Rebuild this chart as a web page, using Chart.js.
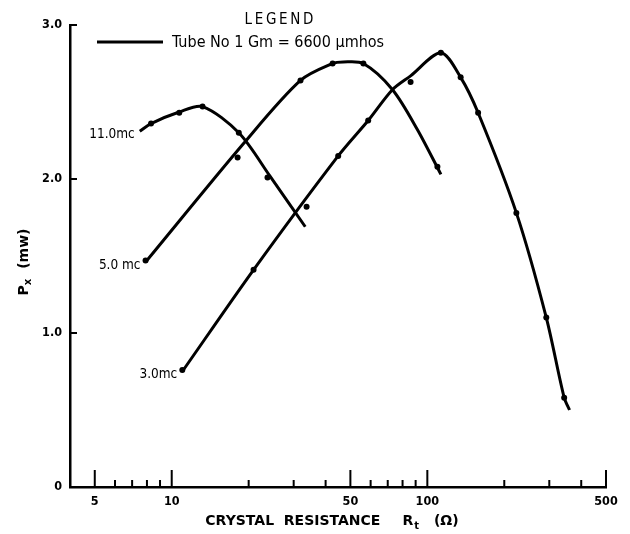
<!DOCTYPE html>
<html>
<head>
<meta charset="utf-8">
<script src="https://cdn.jsdelivr.net/npm/chart.js@4"></script>
<style>
  html, body { margin: 0; padding: 0; background: #fff; }
  #wrap { width: 630px; height: 534px; }
</style>
</head>
<body>
<div id="wrap"><canvas id="myChart" width="630" height="534"></canvas></div>
<script>
// axis ticks
const xMajor = [5, 10, 50, 100, 500];
const xMinor = [6, 7, 8, 9, 20, 30, 40, 60, 70, 80, 90, 200, 300, 400];
const yTicks = [0, 1, 2, 3];
const yLabels = ['0', '1.0', '2.0', '3.0'];

// faired curves (crystal resistance, ohms -> Px, mw)
const curve11R = [7.5, 8.3, 10.7, 13.2, 18.3, 24.2, 33.3];
const curve11P = [2.31, 2.36, 2.435, 2.47, 2.30, 2.02, 1.69];
const curve5R = [7.9, 19.1, 31.9, 42.6, 46.9, 56.2, 73.1, 91.5, 113];
const curve5P = [1.46, 2.23, 2.64, 2.75, 2.76, 2.75, 2.58, 2.32, 2.03];
const curve3R = [11.0, 20.9, 44.8, 58.7, 73, 86, 113, 135, 158, 223, 292, 343, 360];
const curve3P = [0.75, 1.41, 2.15, 2.38, 2.58, 2.67, 2.82, 2.66, 2.43, 1.78, 1.10, 0.58, 0.50];

// measured points
const dots11R = [8.3, 10.7, 13.2, 18.3, 23.7, 33.7];
const dots11P = [2.36, 2.43, 2.47, 2.30, 2.01, 1.82];
const dots5R = [7.9, 18.1, 31.9, 42.6, 56.2, 109.5];
const dots5P = [1.47, 2.14, 2.64, 2.75, 2.75, 2.08];
const dots3R = [11.0, 20.9, 44.8, 58.7, 86, 113, 135, 158, 223, 292, 343];
const dots3P = [0.76, 1.41, 2.15, 2.38, 2.63, 2.82, 2.66, 2.43, 1.78, 1.10, 0.58];

const curveNames = ['11.0mc', '5.0 mc', '3.0mc'];

const pts = (xs, ys) => xs.map((x, i) => ({ x: x, y: ys[i] }));

const curveStyle = {
    borderColor: '#000',
    borderWidth: 3,
    pointRadius: 0,
    tension: 0.3,
    fill: false
};
const dotStyle = {
    showLine: false,
    pointRadius: 3,
    pointBackgroundColor: '#000',
    pointBorderWidth: 0
};

const tickFont = { family: 'DejaVu Sans Condensed, DejaVu Sans', size: 12.5, weight: 'bold' };

// extra drawing: inward tick marks, curve labels, legend, axis titles
const decor = {
    id: 'decor',
    afterDraw(chart) {
        const ctx = chart.ctx;
        const xs = chart.scales.x, ys = chart.scales.y;
        const bottom = chart.chartArea.bottom, left = chart.chartArea.left;
        ctx.save();
        ctx.strokeStyle = '#000';
        ctx.fillStyle = '#000';
        ctx.lineWidth = 2;
        ctx.beginPath();
        xMajor.forEach(v => {
            const px = xs.getPixelForValue(v);
            ctx.moveTo(px, bottom); ctx.lineTo(px, bottom - 17);
        });
        xMinor.forEach(v => {
            const px = xs.getPixelForValue(v);
            ctx.moveTo(px, bottom); ctx.lineTo(px, bottom - 7);
        });
        yTicks.slice(1).forEach(v => {
            const py = ys.getPixelForValue(v);
            ctx.moveTo(left, py); ctx.lineTo(left + 7, py);
        });
        ctx.stroke();

        // curve labels at the start of each curve
        ctx.font = '13.5px "DejaVu Sans Condensed", "DejaVu Sans"';
        ctx.textAlign = 'right';
        ctx.textBaseline = 'middle';
        [[curve11R, curve11P], [curve5R, curve5P], [curve3R, curve3P]].forEach((c, i) => {
            const px = xs.getPixelForValue(c[0][0]);
            const py = ys.getPixelForValue(c[1][0]);
            ctx.fillText(curveNames[i], px - 5, py + 3);
        });

        // legend
        ctx.textAlign = 'center';
        ctx.font = '15px "DejaVu Sans Condensed", "DejaVu Sans"';
        ctx.fillText('L E G E N D'.replace(/ /g, '\u2009'), 279, 20);
        ctx.lineWidth = 3;
        ctx.beginPath();
        ctx.moveTo(97, 42); ctx.lineTo(163, 42);
        ctx.stroke();
        ctx.textAlign = 'left';
        ctx.font = '16px "DejaVu Sans Condensed", "DejaVu Sans"';
        ctx.fillText('Tube No 1 Gm = 6600 \u00B5mhos', 172, 43);

        // x axis title with subscript
        const tFont = 'bold 14px "DejaVu Sans"';
        const sFont = 'bold 10px "DejaVu Sans"';
        ctx.font = tFont;
        const partA = 'CRYSTAL  RESISTANCE', partR = 'R', partC = '(\u03A9)';
        const wA = ctx.measureText(partA).width;
        const wR = ctx.measureText(partR).width;
        const wC = ctx.measureText(partC).width;
        ctx.font = sFont;
        const wT = ctx.measureText('t').width;
        const gap1 = 22, gap2 = 16;
        const total = wA + gap1 + wR + wT + gap2 + wC;
        let x0 = (chart.chartArea.left + chart.chartArea.right) / 2 - total / 2 - 6;
        const ty = 521;
        ctx.font = tFont;
        ctx.fillText(partA, x0, ty); x0 += wA + gap1;
        ctx.fillText(partR, x0, ty); x0 += wR;
        ctx.font = sFont;
        ctx.fillText('t', x0 + 1, ty + 5); x0 += wT + gap2;
        ctx.font = tFont;
        ctx.fillText(partC, x0, ty);

        // y axis title, rotated
        ctx.translate(24, (chart.chartArea.top + chart.chartArea.bottom) / 2 + 6);
        ctx.rotate(-Math.PI / 2);
        ctx.font = tFont;
        const wP = ctx.measureText('P').width;
        const wM = ctx.measureText('(mw)').width;
        ctx.font = sFont;
        const wX = ctx.measureText('x').width;
        const tot2 = wP + wX + 10 + wM;
        let y0 = -tot2 / 2;
        ctx.font = tFont;
        ctx.fillText('P', y0, 0); y0 += wP;
        ctx.font = sFont;
        ctx.fillText('x', y0, 4); y0 += wX + 10;
        ctx.font = tFont;
        ctx.fillText('(mw)', y0, 0);
        ctx.restore();
    }
};

const ctx = document.getElementById('myChart').getContext('2d');

const myChart = new Chart(ctx, {
    type: 'scatter',
    data: {
        datasets: [
            Object.assign({ label: '11.0 mc', data: pts(curve11R, curve11P), showLine: true }, curveStyle),
            Object.assign({ label: '5.0 mc', data: pts(curve5R, curve5P), showLine: true }, curveStyle),
            Object.assign({ label: '3.0 mc', data: pts(curve3R, curve3P), showLine: true }, curveStyle),
            Object.assign({ label: '11.0 mc points', data: pts(dots11R, dots11P) }, dotStyle),
            Object.assign({ label: '5.0 mc points', data: pts(dots5R, dots5P) }, dotStyle),
            Object.assign({ label: '3.0 mc points', data: pts(dots3R, dots3P) }, dotStyle)
        ]
    },
    options: {
        responsive: false,
        animation: false,
        layout: { padding: { top: 25, right: 24, left: 0, bottom: 0 } },
        plugins: {
            legend: { display: false },
            tooltip: { enabled: false }
        },
        scales: {
            x: {
                type: 'logarithmic',
                min: 4,
                max: 500,
                afterBuildTicks: s => { s.ticks = xMajor.map(v => ({ value: v })); },
                afterFit: s => { s.height = 47; },
                ticks: {
                    color: '#000',
                    font: tickFont,
                    padding: 7,
                    maxRotation: 0,
                    autoSkip: false,
                    callback: v => String(v)
                },
                grid: { display: false, drawTicks: false },
                border: { display: true, color: '#000', width: 2.5 }
            },
            y: {
                min: 0,
                max: 3,
                afterBuildTicks: s => { s.ticks = yTicks.map(v => ({ value: v })); },
                afterFit: s => { s.width = 70; },
                ticks: {
                    color: '#000',
                    font: tickFont,
                    padding: 8,
                    callback: v => yLabels[yTicks.indexOf(v)]
                },
                grid: { display: false, drawTicks: false },
                border: { display: true, color: '#000', width: 2.5 }
            }
        }
    },
    plugins: [decor]
});

myChart;
</script>
</body>
</html>
